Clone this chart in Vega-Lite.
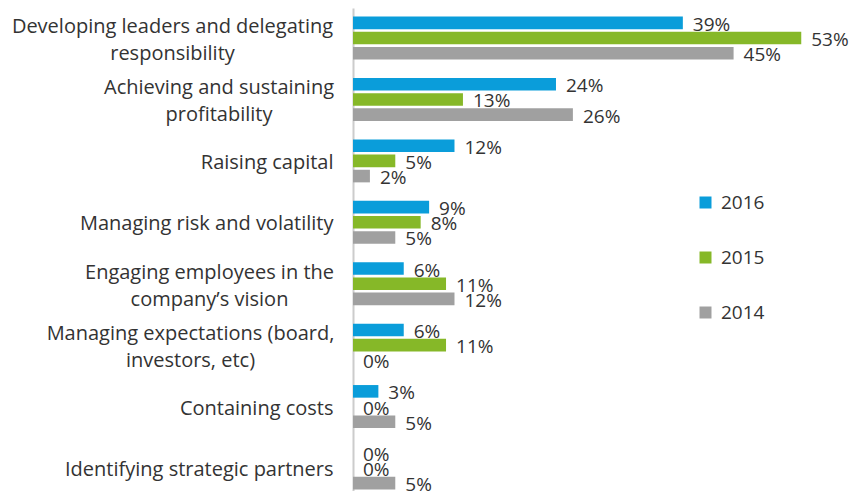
{
  "$schema": "https://vega.github.io/schema/vega-lite/v6.json",
  "autosize": {"type": "none"},
  "padding": {"left": 353, "top": 8, "right": 0, "bottom": 0},
  "width": 499,
  "height": 490,
  "background": "white",
  "config": {
    "view": {"stroke": null},
    "font": "Open Sans",
    "text": {"font": "Open Sans"}
  },
  "data": {
    "values": [
      {"category": "Developing leaders and delegating|responsibility", "year": "2016", "value": 39},
      {"category": "Developing leaders and delegating|responsibility", "year": "2015", "value": 53},
      {"category": "Developing leaders and delegating|responsibility", "year": "2014", "value": 45},
      {"category": "Achieving and sustaining|profitability", "year": "2016", "value": 24},
      {"category": "Achieving and sustaining|profitability", "year": "2015", "value": 13},
      {"category": "Achieving and sustaining|profitability", "year": "2014", "value": 26},
      {"category": "Raising capital", "year": "2016", "value": 12},
      {"category": "Raising capital", "year": "2015", "value": 5},
      {"category": "Raising capital", "year": "2014", "value": 2},
      {"category": "Managing risk and volatility", "year": "2016", "value": 9},
      {"category": "Managing risk and volatility", "year": "2015", "value": 8},
      {"category": "Managing risk and volatility", "year": "2014", "value": 5},
      {"category": "Engaging employees in the|company’s vision", "year": "2016", "value": 6},
      {"category": "Engaging employees in the|company’s vision", "year": "2015", "value": 11},
      {"category": "Engaging employees in the|company’s vision", "year": "2014", "value": 12},
      {"category": "Managing expectations (board,|investors, etc)", "year": "2016", "value": 6},
      {"category": "Managing expectations (board,|investors, etc)", "year": "2015", "value": 11},
      {"category": "Managing expectations (board,|investors, etc)", "year": "2014", "value": 0},
      {"category": "Containing costs", "year": "2016", "value": 3},
      {"category": "Containing costs", "year": "2015", "value": 0},
      {"category": "Containing costs", "year": "2014", "value": 5},
      {"category": "Identifying strategic partners", "year": "2016", "value": 0},
      {"category": "Identifying strategic partners", "year": "2015", "value": 0},
      {"category": "Identifying strategic partners", "year": "2014", "value": 5}
    ]
  },
  "encoding": {
    "y": {
      "field": "category",
      "type": "nominal",
      "sort": null,
      "scale": {"paddingInner": 0.3, "paddingOuter": 0.139},
      "axis": {
        "title": null,
        "labelExpr": "split(datum.label, '|')",
        "labelFontSize": 20,
        "labelColor": "#333333",
        "labelLineHeight": 27,
        "labelAlign": {"condition": {"test": "indexof(datum.value, '|') >= 0", "value": "center"}, "value": "right"},
        "labelOffset": {"condition": {"test": "indexof(datum.value, '|') >= 0", "value": -11}, "value": 2},
        "labelPadding": {
          "condition": [
            {"test": "indexof(datum.value, 'Developing') === 0", "value": 181},
            {"test": "indexof(datum.value, 'Achieving') === 0", "value": 134.5},
            {"test": "indexof(datum.value, 'Engaging') === 0", "value": 144},
            {"test": "indexof(datum.value, 'Managing expectations') === 0", "value": 163}
          ],
          "value": 20
        },
        "labelLimit": 400,
        "ticks": false,
        "domainColor": "#cccccc",
        "domainWidth": 2,
        "grid": false
      }
    },
    "yOffset": {
      "field": "year",
      "type": "nominal",
      "sort": ["2016", "2015", "2014"],
      "scale": {"paddingInner": 0.17, "paddingOuter": 0}
    },
    "x": {
      "field": "value",
      "type": "quantitative",
      "scale": {"domain": [0, 59], "nice": false},
      "axis": null
    }
  },
  "layer": [
    {
      "mark": {"type": "bar"},
      "encoding": {
        "color": {
          "field": "year",
          "type": "nominal",
          "scale": {"domain": ["2016", "2015", "2014"], "range": ["#0A9DDA", "#86B828", "#A0A0A0"]},
          "legend": {
            "title": null,
            "orient": "none",
            "legendX": 343,
            "legendY": 185,
            "symbolType": "square",
            "symbolSize": 144,
            "symbolStrokeWidth": 0,
            "labelFontSize": 19,
            "labelColor": "#333333",
            "rowPadding": 35,
            "padding": 0,
            "labelOffset": 6
          }
        }
      }
    },
    {
      "transform": [{"calculate": "datum.value + '%'", "as": "label"}],
      "mark": {"type": "text", "align": "left", "baseline": "middle", "dx": 10, "dy": 2, "fontSize": 19, "color": "#333333"},
      "encoding": {
        "text": {"field": "label", "type": "nominal"}
      }
    }
  ]
}
